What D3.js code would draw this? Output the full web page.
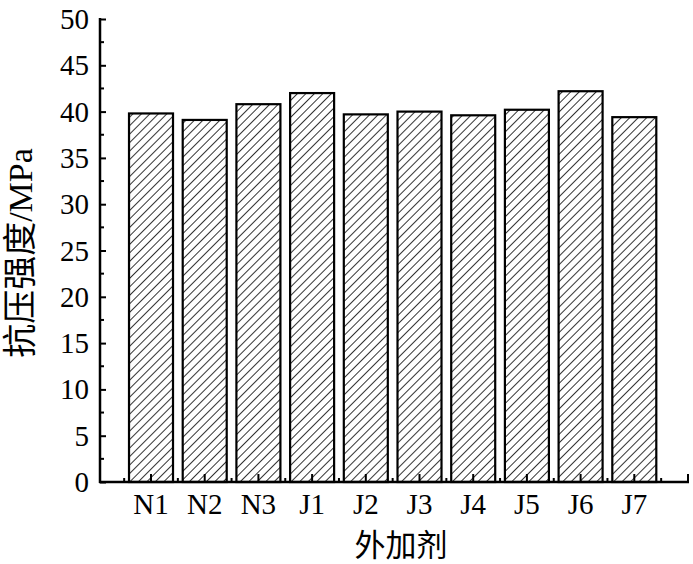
<!DOCTYPE html>
<html><head><meta charset="utf-8">
<script src="https://cdn.jsdelivr.net/npm/d3@7"></script>
<style>body{margin:0;background:#fff}svg{display:block}</style>
</head><body>
<script>
const categories = ["N1","N2","N3","J1","J2","J3","J4","J5","J6","J7"];
const values = [39.8, 39.1, 40.8, 42.0, 39.7, 40.0, 39.6, 40.2, 42.2, 39.4];
const yTicks = [0,5,10,15,20,25,30,35,40,45,50];
const xLabel = "外加剂";
const yLabel = "抗压强度/MPa";

const W = 693, H = 564;
const svg = d3.select("body").append("svg").attr("width", W).attr("height", H);
const font = "'Liberation Serif','Noto Sans CJK SC',serif";

const defs = svg.append("defs");
const pat = defs.append("pattern").attr("id","hatch").attr("patternUnits","userSpaceOnUse")
  .attr("width",6).attr("height",6).attr("patternTransform","rotate(45)");
pat.append("rect").attr("width",6).attr("height",6).attr("fill","#fff");
pat.append("line").attr("x1",0).attr("y1",0).attr("x2",0).attr("y2",6).attr("stroke","#000").attr("stroke-width",1.6);

const x = d3.scaleLinear().domain([0.05, 11]).range([100, 688]);
const y = d3.scaleLinear().domain([0, 50]).range([482, 19]);
const barW = 44;

// bars
svg.append("g").selectAll("rect").data(categories).join("rect")
  .attr("x", (d,i) => x(i+1) - barW/2)
  .attr("y", (d,i) => y(values[i]))
  .attr("width", barW)
  .attr("height", (d,i) => y(0) - y(values[i]))
  .attr("fill","url(#hatch)").attr("stroke","#000").attr("stroke-width",2.2);

// y axis
const yAxis = d3.axisRight(y).tickValues(yTicks).tickSize(6).tickFormat("");
const gy = svg.append("g").attr("transform","translate(100,0)").call(yAxis);
gy.select(".domain").remove();
gy.selectAll(".tick line").attr("stroke","#000").attr("stroke-width",2);
const yMinor = d3.range(2.5, 50, 5);
svg.append("g").selectAll("line").data(yMinor).join("line")
  .attr("x1",100).attr("x2",104).attr("y1",d=>y(d)).attr("y2",d=>y(d))
  .attr("stroke","#000").attr("stroke-width",2);
svg.append("g").selectAll("text").data(yTicks).join("text")
  .attr("x", 89).attr("y", d => y(d) + 10)
  .attr("text-anchor","end").attr("font-family",font).attr("font-size",29)
  .text(d => d);

// x axis
const xMajor = d3.range(1, 12);
const xMinor = d3.range(0.5, 11, 1);
svg.append("g").selectAll("line").data(xMajor).join("line")
  .attr("x1",d=>x(d)).attr("x2",d=>x(d)).attr("y1",482).attr("y2",474)
  .attr("stroke","#000").attr("stroke-width",2);
svg.append("g").selectAll("line").data(xMinor).join("line")
  .attr("x1",d=>x(d)).attr("x2",d=>x(d)).attr("y1",482).attr("y2",478)
  .attr("stroke","#000").attr("stroke-width",2);
svg.append("g").selectAll("text").data(categories).join("text")
  .attr("x",(d,i)=>x(i+1)).attr("y",514)
  .attr("text-anchor","middle").attr("font-family",font).attr("font-size",29)
  .text(d=>d);

// axis lines
svg.append("line").attr("x1",100).attr("x2",100).attr("y1",18).attr("y2",483)
  .attr("stroke","#000").attr("stroke-width",2.5);
svg.append("line").attr("x1",99).attr("x2",689).attr("y1",482).attr("y2",482)
  .attr("stroke","#000").attr("stroke-width",2.5);

// axis titles
svg.append("text").attr("x",401).attr("y",556).attr("text-anchor","middle")
  .attr("font-family",font).attr("font-size",31).text(xLabel);
svg.append("text").attr("transform","translate(32,253) rotate(-90)")
  .attr("text-anchor","middle").attr("font-family",font).attr("font-size",34).text(yLabel);
</script>
</body></html>
